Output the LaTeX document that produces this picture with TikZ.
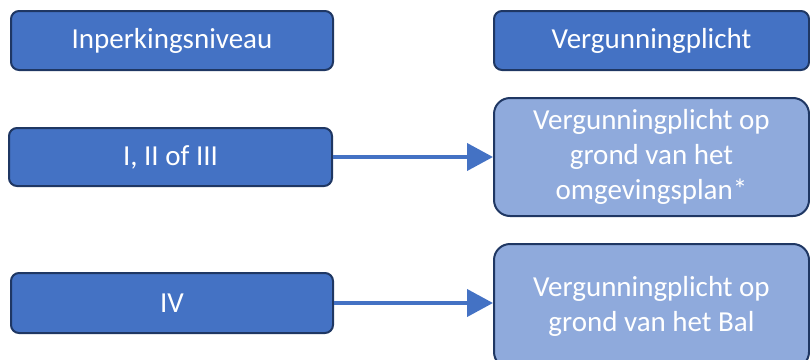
\documentclass[tikz,border=0pt]{standalone}
\usepackage{fontspec}
\setmainfont{Carlito}
\usetikzlibrary{arrows.meta}
\definecolor{blokblauw}{HTML}{4472C4}
\definecolor{lichtblauw}{HTML}{8FAADC}
\definecolor{randblauw}{HTML}{1F3763}
\tikzset{
    niveau/.style={draw=randblauw, line width=2pt, fill=blokblauw, rounded corners=8pt,
        text=white, inner sep=0pt, font=\fontsize{29}{35}\selectfont},
    plicht/.style={draw=randblauw, line width=2pt, fill=lichtblauw, rounded corners=16pt,
        text=white, inner sep=0pt, align=center, font=\fontsize{29}{35}\selectfont},
    pijl/.style={draw=blokblauw, line width=4pt, -{Triangle[length=26pt,width=27pt]}}
}
\begin{document}
\begin{tikzpicture}[x=1pt,y=-1pt]
        \useasboundingbox (0,0) rectangle (810,359);
        % Kolomkoppen
        \node[niveau, minimum width=322pt, minimum height=59pt] (kopniveau) at (172,40.5) {Inperkingsniveau};
        \node[niveau, minimum width=315pt, minimum height=59pt] (kopplicht) at (651.5,40.5) {Vergunningplicht};
        % Niveaus
        \node[niveau, minimum width=323pt, minimum height=58pt] (niveau1) at (170.5,157) {I, II of III};
        \node[niveau, minimum width=322pt, minimum height=60pt] (niveau4) at (172,303) {IV};
        % Vergunningplicht
        \node[plicht, minimum width=315pt, minimum height=118pt] (plicht1) at (651.5,157)
            {Vergunningplicht op\\grond van het\\omgevingsplan*};
        \node[plicht, minimum width=315pt, minimum height=124pt] (plicht4) at (651.5,306)
            {Vergunningplicht op\\grond van het Bal};
        % Pijlen
        \draw[pijl] (niveau1.east) -- (plicht1.west);
        \draw[pijl] (niveau4.east) -- (niveau4.east -| plicht4.west);
    \end{tikzpicture}
\end{document}
